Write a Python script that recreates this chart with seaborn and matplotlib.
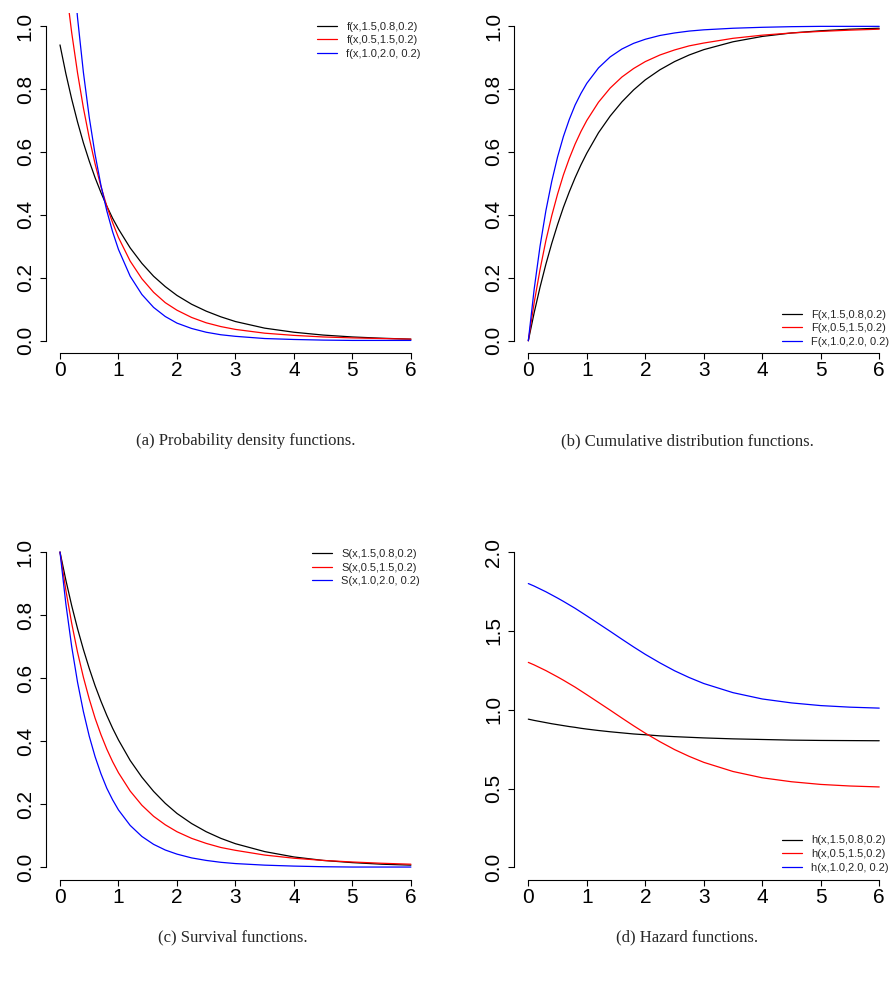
import numpy as np
import pandas as pd
import matplotlib
matplotlib.use("Agg")
import matplotlib.pyplot as plt
import seaborn as sns

x_vals = [0, 0.1, 0.2, 0.3, 0.4, 0.5, 0.6, 0.7, 0.8, 0.9, 1.0, 1.2, 1.4, 1.6, 1.8,
          2.0, 2.25, 2.5, 2.75, 3.0, 3.5, 4.0, 4.5, 5.0, 5.5, 6.0]

param_labels = ["1.5,0.8,0.2", "0.5,1.5,0.2", "1.0,2.0, 0.2"]
line_colors = ["black", "red", "blue"]

# (a) density
pdf_black = [0.940, 0.849, 0.768, 0.695, 0.629, 0.571, 0.518, 0.471, 0.428, 0.389, 0.355, 0.295, 0.246,
             0.205, 0.172, 0.144, 0.116, 0.094, 0.076, 0.061, 0.040, 0.027, 0.018, 0.012, 0.008, 0.005]
pdf_red = [1.300, 1.128, 0.979, 0.851, 0.740, 0.645, 0.562, 0.490, 0.428, 0.375, 0.328, 0.253, 0.197,
           0.154, 0.121, 0.097, 0.074, 0.057, 0.045, 0.036, 0.024, 0.017, 0.012, 0.009, 0.007, 0.005]
pdf_blue = [1.800, 1.491, 1.236, 1.026, 0.853, 0.710, 0.592, 0.494, 0.413, 0.346, 0.290, 0.205, 0.147,
            0.106, 0.077, 0.056, 0.039, 0.027, 0.019, 0.014, 0.007, 0.004, 0.002, 0.001, 0.001, 0.001]

# (b) cdf
cdf_black = [0.000, 0.089, 0.170, 0.243, 0.309, 0.369, 0.424, 0.473, 0.518, 0.559, 0.596, 0.661, 0.714,
             0.759, 0.797, 0.829, 0.861, 0.887, 0.908, 0.925, 0.950, 0.967, 0.978, 0.985, 0.990, 0.993]
cdf_red = [0.000, 0.121, 0.226, 0.318, 0.397, 0.466, 0.527, 0.579, 0.625, 0.665, 0.700, 0.758, 0.803,
           0.838, 0.865, 0.887, 0.908, 0.924, 0.937, 0.946, 0.961, 0.971, 0.978, 0.983, 0.987, 0.990]
cdf_blue = [0.000, 0.164, 0.300, 0.413, 0.506, 0.584, 0.649, 0.703, 0.749, 0.786, 0.818, 0.867, 0.902,
            0.927, 0.945, 0.958, 0.970, 0.978, 0.984, 0.988, 0.993, 0.996, 0.998, 0.999, 0.999, 0.999]

# (c) survival
surv_black = [1.000, 0.911, 0.830, 0.757, 0.691, 0.631, 0.576, 0.527, 0.482, 0.441, 0.404, 0.339, 0.286,
              0.241, 0.203, 0.171, 0.139, 0.113, 0.092, 0.075, 0.050, 0.033, 0.022, 0.015, 0.010, 0.007]
surv_red = [1.000, 0.879, 0.774, 0.682, 0.603, 0.534, 0.473, 0.421, 0.375, 0.335, 0.300, 0.242, 0.197,
            0.162, 0.135, 0.113, 0.092, 0.076, 0.063, 0.054, 0.039, 0.029, 0.022, 0.017, 0.013, 0.010]
surv_blue = [1.000, 0.836, 0.700, 0.587, 0.494, 0.416, 0.351, 0.297, 0.251, 0.214, 0.182, 0.133, 0.098,
             0.073, 0.055, 0.042, 0.030, 0.022, 0.016, 0.012, 0.007, 0.004, 0.002, 0.001, 0.001, 0.001]

# (d) hazard
haz_black = [0.940, 0.932, 0.925, 0.918, 0.911, 0.905, 0.899, 0.893, 0.888, 0.882, 0.877, 0.868, 0.860,
             0.853, 0.846, 0.841, 0.834, 0.829, 0.825, 0.821, 0.815, 0.811, 0.807, 0.805, 0.804, 0.803]
haz_red = [1.300, 1.284, 1.266, 1.248, 1.228, 1.208, 1.187, 1.165, 1.143, 1.119, 1.095, 1.046, 0.997,
           0.947, 0.898, 0.851, 0.797, 0.747, 0.704, 0.666, 0.608, 0.568, 0.543, 0.526, 0.516, 0.510]
haz_blue = [1.800, 1.784, 1.766, 1.748, 1.728, 1.708, 1.687, 1.665, 1.643, 1.619, 1.595, 1.546, 1.497,
            1.447, 1.398, 1.351, 1.297, 1.247, 1.204, 1.166, 1.108, 1.068, 1.043, 1.026, 1.016, 1.010]

x_ticks = [0, 1, 2, 3, 4, 5, 6]
prob_ticks = [0.0, 0.2, 0.4, 0.6, 0.8, 1.0]
haz_ticks = [0.0, 0.5, 1.0, 1.5, 2.0]

sns.set_style("ticks")
plt.rcParams['font.family'] = ['Liberation Sans', 'DejaVu Sans']

fig = plt.figure(figsize=(8.89, 9.82), dpi=100)

panels = [
    dict(rect=[0.0517, 0.6402, 0.4263, 0.3461], series=[pdf_black, pdf_red, pdf_blue], letter="f",
         yticks=prob_ticks, leg=(0.3566, 0.978), cap="(a) Probability density functions.", cap_xy=(0.2767, 0.5505)),
    dict(rect=[0.5785, 0.6402, 0.4263, 0.3461], series=[cdf_black, cdf_red, cdf_blue], letter="F",
         yticks=prob_ticks, leg=(0.8793, 0.6848), cap="(b) Cumulative distribution functions.", cap_xy=(0.7728, 0.5505)),
    dict(rect=[0.0517, 0.1039, 0.4263, 0.3468], series=[surv_black, surv_red, surv_blue], letter="S",
         yticks=prob_ticks, leg=(0.351, 0.441), cap="(c) Survival functions.", cap_xy=(0.2621, 0.0455)),
    dict(rect=[0.5785, 0.1039, 0.4263, 0.3468], series=[haz_black, haz_red, haz_blue], letter="h",
         yticks=haz_ticks, leg=(0.8793, 0.1492), cap="(d) Hazard functions.", cap_xy=(0.7728, 0.0455)),
]

for p in panels:
    ax = fig.add_axes(p["rect"])
    for vals, col, lab in zip(p["series"], line_colors, param_labels):
        sns.lineplot(x=x_vals, y=vals, color=col, linewidth=0.9, ax=ax,
                     label=f"{p['letter']}(x,{lab})", legend=False)

    ymax = p["yticks"][-1]
    ax.set_xlim(-0.24, 6.24)
    ax.set_ylim(-0.04 * ymax, 1.04 * ymax)
    ax.set_xticks(x_ticks)
    ax.set_xticklabels([str(t) for t in x_ticks])
    ax.set_yticks(p["yticks"])
    ax.set_yticklabels([f"{t:.1f}" for t in p["yticks"]], rotation=90, va="center")

    for side in ["top", "right"]:
        ax.spines[side].set_visible(False)
    ax.spines["bottom"].set_bounds(0, 6)
    ax.spines["left"].set_bounds(0, ymax)
    for side in ["bottom", "left"]:
        ax.spines[side].set_linewidth(0.8)
        ax.spines[side].set_color("black")
    ax.tick_params(axis="both", direction="out", length=4.5, width=0.8, labelsize=15, colors="black")
    ax.tick_params(axis="x", pad=1)
    ax.tick_params(axis="y", pad=3.5)
    ax.set_facecolor("white")

    handles, labels = ax.get_legend_handles_labels()
    ax.legend(handles, labels, loc="upper left", bbox_to_anchor=p["leg"], bbox_transform=fig.transFigure,
              frameon=False, fontsize=8, handlelength=1.8, handletextpad=0.85, labelspacing=0.33,
              borderpad=0, borderaxespad=0)

    fig.text(p["cap_xy"][0], p["cap_xy"][1], p["cap"], ha="center", va="center",
             fontsize=12, family=["Liberation Serif", "DejaVu Serif"])

fig.savefig("out.png", dpi=100, facecolor="white")
